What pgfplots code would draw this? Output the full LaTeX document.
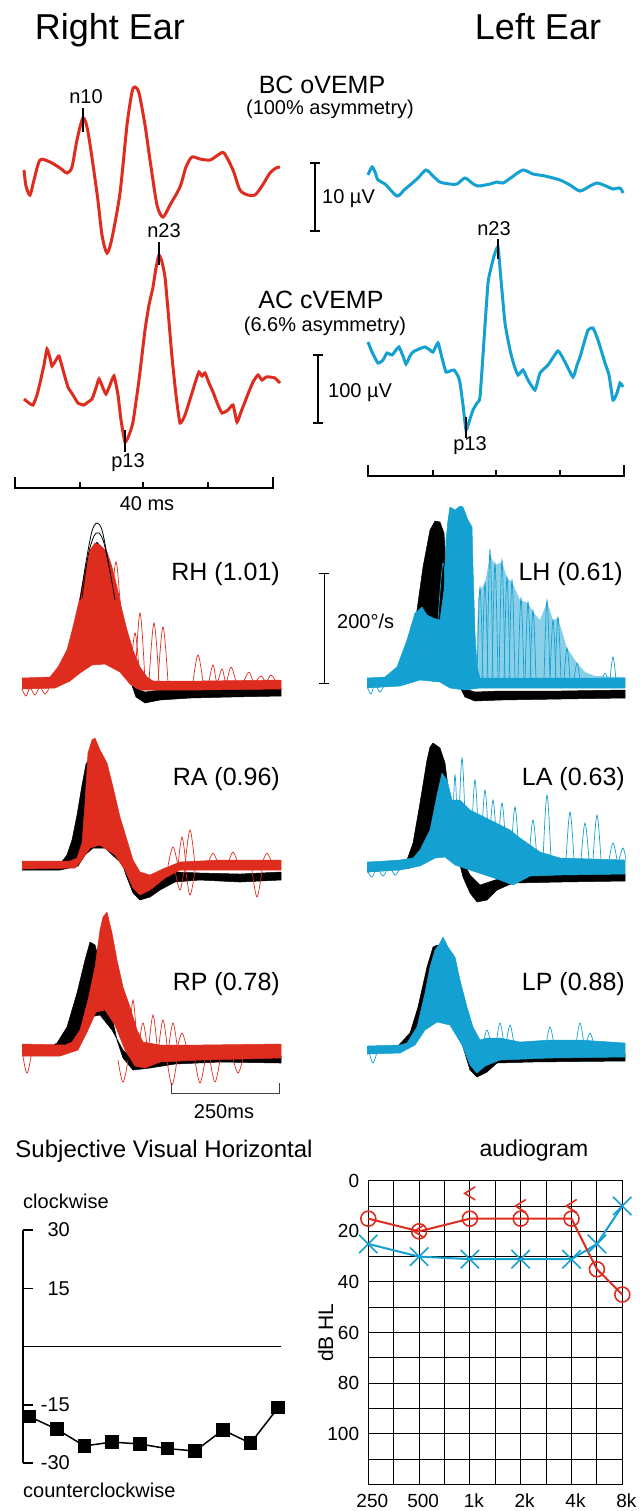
\documentclass[border=0pt]{standalone}
\usepackage{pgfplots}
\pgfplotsset{compat=1.18}
\usepackage{fontspec}
\setmainfont{Liberation Sans}
\definecolor{vred}{RGB}{222,44,30}
\definecolor{vblue}{RGB}{20,160,208}
\newcommand{\fs}[1]{\fontsize{#1}{#1}\selectfont}
\pgfdeclareplotmark{lt}{%
  \pgfpathmoveto{\pgfqpoint{0.8\pgfplotmarksize}{\pgfplotmarksize}}%
  \pgfpathlineto{\pgfqpoint{-0.8\pgfplotmarksize}{0pt}}%
  \pgfpathlineto{\pgfqpoint{0.8\pgfplotmarksize}{-\pgfplotmarksize}}%
  \pgfusepathqstroke}
\pgfplotsset{
  vl/.style={line width=0.7pt, smooth, tension=0.6},
  pf/.style={line width=0.5pt, line join=round},
}
\tikzset{lbl/.style={inner sep=0pt}}
\begin{document}
\begin{tikzpicture}
\path[use as bounding box] (0,0) rectangle (644pt,-1511pt);
\begin{axis}[at={(0pt,0pt)}, anchor=north west, x=1pt, y=1pt,
  xmin=0, xmax=644, ymin=0, ymax=1511, y dir=reverse, hide axis, clip=false]

% ---------- titles ----------
\node[lbl, anchor=base, font=\fs{36}] at (axis cs:110,39) {Right Ear};
\node[lbl, anchor=base, font=\fs{36}] at (axis cs:538,39) {Left Ear};
\node[lbl, anchor=base, font=\fs{25}] at (axis cs:322,93) {BC oVEMP};
\node[lbl, anchor=base, font=\fs{20}] at (axis cs:330,114) {(100\% asymmetry)};
\node[lbl, anchor=base, font=\fs{25}] at (axis cs:321,308) {AC cVEMP};
\node[lbl, anchor=base, font=\fs{20}] at (axis cs:325,331) {(6.6\% asymmetry)};

% ---------- BC oVEMP ----------
\addplot[vred, line width=3pt, smooth, tension=0.45] coordinates {
(24,170) (26,186) (30,195) (34,180) (40,160) (50,162) (60,168) (67,173) (72,167)
(77,140) (83,118) (88,132) (97,193) (102,235) (107,253) (112,238) (120,193) (127,125)
(132,92) (135,87) (139,93) (145,125) (150,160) (157,205) (163,217) (170,205) (180,187)
(186,167) (192,157) (200,159) (210,160) (218,155) (224,153) (233,170) (240,190) (248,195)
(255,195) (262,186) (270,173) (276,168) (280,167)};
\addplot[vblue, line width=3pt, smooth, tension=0.45] coordinates {
(368,175) (372,167) (375,172) (378,180) (385,184) (397,196) (404,190) (410,185) (418,178)
(426,170) (433,176) (440,182) (450,184) (457,184) (465,178) (472,183) (478,186) (490,184)
(497,182) (503,183) (512,177) (523,170) (533,174) (545,176) (560,180) (570,185) (580,191)
(590,186) (597,183) (606,186) (613,189) (620,188) (623,193)};
\draw[line width=2pt] (axis cs:83,108) -- (axis cs:83,132);
\node[lbl, anchor=base, font=\fs{20}] at (axis cs:86,103) {n10};
\draw[line width=2pt] (axis cs:315,163) -- (axis cs:315,231);
\draw[line width=2pt] (axis cs:310,163) -- (axis cs:320,163);
\draw[line width=2pt] (axis cs:310,231) -- (axis cs:320,231);
\node[lbl, anchor=base west, font=\fs{20}] at (axis cs:322,203) {10 µV};

% ---------- AC cVEMP ----------
\addplot[vred, line width=3pt, smooth, tension=0.3] coordinates {
(24,399) (29,403) (33,405) (37,395) (40,383) (44,365) (47,349) (50,358) (52,366) (56,360)
(59,356) (63,370) (68,387) (73,395) (78,403) (84,405) (88,402) (92,399) (96,388) (99,379)
(103,388) (106,394) (110,385) (114,376) (118,395) (121,420) (125,442) (129,435) (133,422)
(139,380) (145,330) (149,305) (153,287) (156,268) (159,255) (162,262) (165,277) (168,310)
(172,357) (176,395) (180,423) (185,415) (192,393) (196,380) (199,372) (202,376) (205,373)
(209,383) (213,392) (218,405) (222,413) (228,410) (233,405) (237,422) (241,412) (248,394)
(253,382) (258,375) (262,380) (266,377) (270,377) (275,378) (280,383)};
\addplot[vblue, line width=3pt, smooth, tension=0.3] coordinates {
(368,342) (372,352) (378,363) (383,360) (387,353) (392,355) (396,350) (399,347) (403,356)
(406,364) (410,356) (413,352) (419,349) (425,347) (430,350) (433,352) (438,343) (442,358)
(446,372) (450,371) (454,370) (458,376) (460,383) (463,405) (466,430) (469,422) (473,410)
(477,403) (480,397) (484,340) (488,283) (491,268) (494,256) (498,247) (501,280) (505,323)
(510,350) (514,365) (518,375) (523,370) (528,380) (535,390) (540,373) (548,365) (558,351)
(565,362) (573,377) (577,365) (580,357) (584,343) (588,330) (593,328) (598,340) (605,363)
(609,375) (613,400) (617,393) (620,383) (623,387)};
\draw[line width=2pt] (axis cs:159,242) -- (axis cs:159,265);
\node[lbl, anchor=base, font=\fs{20}] at (axis cs:164,237) {n23};
\draw[line width=2pt] (axis cs:125,430) -- (axis cs:125,452);
\node[lbl, anchor=base, font=\fs{20}] at (axis cs:128,467) {p13};
\draw[line width=2pt] (axis cs:498,239) -- (axis cs:498,259);
\node[lbl, anchor=base, font=\fs{20}] at (axis cs:494,235) {n23};
\draw[line width=2pt] (axis cs:466,417) -- (axis cs:466,438);
\node[lbl, anchor=base, font=\fs{20}] at (axis cs:470,450) {p13};
\draw[line width=2pt] (axis cs:318,355) -- (axis cs:318,423);
\draw[line width=2pt] (axis cs:313,355) -- (axis cs:323,355);
\draw[line width=2pt] (axis cs:313,423) -- (axis cs:323,423);
\node[lbl, anchor=base west, font=\fs{20}] at (axis cs:328,397) {100 µV};
% time bars
\draw[line width=1.6pt] (axis cs:15,477) -- (axis cs:15,488) -- (axis cs:273,488) -- (axis cs:273,477);
\draw[line width=1.6pt] (axis cs:80,482) -- (axis cs:80,488);
\draw[line width=1.6pt] (axis cs:143,482) -- (axis cs:143,488);
\draw[line width=1.6pt] (axis cs:208,482) -- (axis cs:208,488);
\node[lbl, anchor=base, font=\fs{20}] at (axis cs:147,510) {40 ms};
\draw[line width=1.6pt] (axis cs:368,465) -- (axis cs:368,476) -- (axis cs:624,476) -- (axis cs:624,465);
\draw[line width=1.6pt] (axis cs:433,470) -- (axis cs:433,476);
\draw[line width=1.6pt] (axis cs:496,470) -- (axis cs:496,476);
\draw[line width=1.6pt] (axis cs:560,470) -- (axis cs:560,476);

% ---------- vHIT RH ----------
\addplot[draw=black, fill=black, pf] coordinates {(22,684) (50,681) (60,673) (70,650) (78,615) (85,578) (91,552) (97,542) (103,550) (110,578) (117,615) (124,650) (130,680) (136,697) (145,703) (160,700) (190,698) (230,697) (281,696) (281,688) (230,689) (190,689) (160,690) (145,692) (135,688) (125,675) (115,662) (100,655) (88,660) (78,672) (68,680) (55,685) (22,687)};
\addplot[draw=vred, fill=vred, pf] coordinates {(22,678) (50,677) (58,667) (67,650) (73,627) (80,597) (85,570) (90,550) (95,543) (100,545) (107,552) (112,567) (117,587) (122,610) (127,630) (133,650) (140,667) (147,677) (153,681) (200,681) (281,680) (281,689) (200,690) (153,690) (140,690) (130,684) (120,672) (105,664) (92,665) (80,673) (70,681) (55,688) (22,689)};
\addplot[black, line width=0.8pt, smooth] coordinates {(80,600) (86,562) (92,531) (97,523) (102,530) (108,560) (115,600)};
\addplot[black, line width=0.8pt, smooth] coordinates {(82,598) (88,556) (94,536) (99,533) (104,543) (110,572)};
\addplot[vred, vl] coordinates {(108,660) (112,600) (116,562) (120,600) (124,650)};
\addplot[vred, vl] coordinates {(130,682) (135,633) (140,682)};
\addplot[vred, vl] coordinates {(135,682) (140,613) (145,682)};
\addplot[vred, vl] coordinates {(149,682) (154,623) (159,682)};
\addplot[vred, vl] coordinates {(158,682) (163,627) (168,682)};
\addplot[vred, vl] coordinates {(193,682) (198,655) (203,682)};
\addplot[vred, vl] coordinates {(209,682) (213,665) (217,682) (222,669) (226,682) (231,667) (236,682)};
\addplot[vred, vl] coordinates {(244,681) (249,672) (254,682) (261,676) (266,682) (271,675) (276,682)};
\addplot[vred, vl] coordinates {(22,689) (26,696) (30,688) (35,695) (40,687) (45,694) (50,686)};
\node[lbl, anchor=base east, font=\fs{25}] at (axis cs:280,580) {RH (1.01)};
\draw[line width=1pt] (axis cs:324,573) -- (axis cs:324,683);
\draw[line width=1pt] (axis cs:319,573) -- (axis cs:329,573);
\draw[line width=1pt] (axis cs:319,683) -- (axis cs:329,683);
\node[lbl, anchor=base west, font=\fs{20}] at (axis cs:337,628) {200°/s};

% ---------- vHIT LH ----------
\addplot[draw=black, fill=black, pf] coordinates {(367,684) (395,682) (405,665) (410,650) (417,610) (423,567) (430,530) (435,521) (440,522) (444,533) (447,583) (450,633) (455,667) (460,687) (465,697) (475,701) (500,700) (560,699) (625,698) (625,690) (560,691) (500,691) (475,692) (462,688) (452,670) (445,640) (435,625) (425,625) (415,640) (405,670) (395,684) (367,686)};
\addplot[draw=vblue, fill=vblue, pf] coordinates {(367,678) (385,677) (397,667) (407,640) (415,613) (422,607) (427,615) (433,618) (440,620) (444,590) (446,540) (448,520) (450,507) (455,510) (460,506) (463,507) (468,520) (472,527) (473,567) (475,633) (477,667) (480,678) (625,678) (625,688) (480,688) (465,690) (450,688) (440,682) (420,680) (400,686) (367,688)};
\addplot[draw=none, fill=vblue, fill opacity=0.5] coordinates {(476,680) (478,600) (480,590) (485,583) (490,555) (495,565) (502,562) (507,578) (512,582) (520,600) (528,603) (533,612) (540,620) (547,602) (553,620) (558,618) (567,648) (577,663) (585,672) (595,676) (625,677) (625,683) (476,683)};
\addplot[vblue, vl] coordinates {(438,620) (443,563) (447,600)};
\addplot[vblue, vl] coordinates {(477,680) (480,587) (483,680)};
\addplot[vblue, vl] coordinates {(482,680) (485,583) (488,680)};
\addplot[vblue, vl] coordinates {(487,680) (490,550) (493,680)};
\addplot[vblue, vl] coordinates {(492,680) (495,563) (498,680)};
\addplot[vblue, vl] coordinates {(499,680) (502,560) (505,680)};
\addplot[vblue, vl] coordinates {(504,680) (507,577) (510,680)};
\addplot[vblue, vl] coordinates {(509,680) (512,580) (515,680)};
\addplot[vblue, vl] coordinates {(518,680) (521,598) (524,680)};
\addplot[vblue, vl] coordinates {(525,680) (528,602) (531,680)};
\addplot[vblue, vl] coordinates {(530,680) (533,610) (536,680)};
\addplot[vblue, vl] coordinates {(544,680) (547,600) (550,680)};
\addplot[vblue, vl] coordinates {(550,680) (553,620) (556,680)};
\addplot[vblue, vl] coordinates {(555,680) (558,617) (561,680)};
\addplot[vblue, vl] coordinates {(564,680) (567,648) (570,680)};
\addplot[vblue, vl] coordinates {(574,680) (577,663) (580,680)};
\addplot[vblue, vl] coordinates {(602,680) (605,673) (608,680)};
\addplot[vblue, vl] coordinates {(610,680) (613,657) (616,680)};
\addplot[vblue, vl] coordinates {(367,686) (371,694) (375,684) (380,692) (385,683)};
\node[lbl, anchor=base east, font=\fs{25}] at (axis cs:623,580) {LH (0.61)};

% ---------- vHIT RA ----------
\addplot[draw=black, fill=black, pf] coordinates {(22,866) (60,864) (67,855) (72,840) (77,815) (82,785) (86,764) (90,758) (95,765) (102,790) (110,820) (118,850) (126,875) (133,893) (140,900) (150,897) (160,890) (175,882) (200,880) (240,882) (281,880) (281,872) (240,874) (200,873) (175,872) (160,875) (150,880) (140,885) (130,878) (120,862) (105,848) (93,848) (85,855) (78,866) (60,870) (22,870)};
\addplot[draw=vred, fill=vred, pf] coordinates {(22,861) (70,861) (77,858) (82,843) (85,803) (88,753) (92,740) (95,738) (100,750) (107,763) (113,787) (120,817) (127,840) (133,860) (140,872) (150,875) (165,868) (180,862) (220,860) (281,860) (281,870) (220,870) (180,870) (165,878) (150,890) (140,895) (133,888) (125,870) (115,855) (100,845) (90,848) (82,860) (75,868) (22,869)};
\addplot[vred, vl] coordinates {(168,866) (173,847) (178,866)};
\addplot[vred, vl] coordinates {(178,866) (182,837) (186,866)};
\addplot[vred, vl] coordinates {(185,866) (190,830) (195,866)};
\addplot[vred, vl] coordinates {(208,864) (213,853) (218,864)};
\addplot[vred, vl] coordinates {(228,864) (233,852) (238,864)};
\addplot[vred, vl] coordinates {(262,864) (267,853) (272,864)};
\addplot[vred, vl] coordinates {(175,870) (180,890) (185,870) (190,895) (195,870)};
\addplot[vred, vl] coordinates {(252,870) (257,897) (262,870)};
\node[lbl, anchor=base east, font=\fs{25}] at (axis cs:280,785) {RA (0.96)};

% ---------- vHIT LA ----------
\addplot[draw=black, fill=black, pf] coordinates {(367,870) (400,868) (407,860) (413,843) (420,803) (427,760) (430,747) (433,743) (440,748) (445,763) (448,787) (452,820) (457,853) (463,877) (470,893) (477,902) (487,900) (497,890) (513,883) (560,882) (625,881) (625,874) (560,875) (513,876) (495,880) (480,885) (470,875) (460,855) (450,840) (440,838) (430,845) (420,857) (410,868) (367,872)};
\addplot[draw=vblue, fill=vblue, pf] coordinates {(367,862) (385,861) (400,860) (413,858) (420,850) (430,830) (437,795) (442,773) (447,780) (452,800) (460,800) (470,810) (480,815) (490,820) (500,825) (510,830) (520,838) (530,845) (540,852) (560,858) (625,860) (625,874) (560,875) (530,876) (513,885) (500,880) (485,875) (470,870) (455,865) (445,857) (435,858) (420,866) (400,870) (367,872)};
\addplot[vblue, vl] coordinates {(452,850) (455,775) (458,850)};
\addplot[vblue, vl] coordinates {(458,850) (462,758) (466,850)};
\addplot[vblue, vl] coordinates {(471,850) (475,780) (479,850)};
\addplot[vblue, vl] coordinates {(481,850) (485,790) (489,850)};
\addplot[vblue, vl] coordinates {(489,850) (493,800) (497,850)};
\addplot[vblue, vl] coordinates {(498,850) (502,803) (506,850)};
\addplot[vblue, vl] coordinates {(511,855) (515,807) (519,855)};
\addplot[vblue, vl] coordinates {(529,860) (533,820) (537,860)};
\addplot[vblue, vl] coordinates {(543,860) (547,795) (551,860)};
\addplot[vblue, vl] coordinates {(566,860) (570,812) (574,860)};
\addplot[vblue, vl] coordinates {(581,860) (585,823) (589,860)};
\addplot[vblue, vl] coordinates {(593,860) (597,815) (601,860)};
\addplot[vblue, vl] coordinates {(609,860) (613,843) (617,860)};
\addplot[vblue, vl] coordinates {(619,860) (623,848) (626,860)};
\addplot[vblue, vl] coordinates {(367,870) (372,877) (377,868) (383,876) (389,867) (395,875) (400,868)};
\node[lbl, anchor=base east, font=\fs{25}] at (axis cs:625,785) {LA (0.63)};

% ---------- vHIT RP ----------
\addplot[draw=black, fill=black, pf] coordinates {(22,1049) (50,1047) (57,1043) (67,1027) (77,993) (85,960) (90,942) (95,945) (100,963) (110,1007) (117,1040) (123,1058) (133,1070) (150,1068) (175,1064) (220,1062) (281,1063) (281,1056) (220,1055) (175,1056) (150,1058) (133,1060) (123,1050) (112,1030) (100,1015) (90,1017) (80,1035) (70,1047) (55,1052) (22,1052)};
\addplot[draw=vred, fill=vred, pf] coordinates {(22,1044) (65,1045) (72,1042) (80,1030) (88,1000) (95,967) (100,930) (103,917) (107,912) (112,933) (117,960) (123,987) (130,1007) (137,1030) (143,1042) (160,1045) (200,1045) (281,1044) (281,1058) (200,1060) (160,1062) (145,1068) (135,1066) (125,1050) (115,1025) (105,1010) (96,1012) (88,1030) (78,1050) (60,1056) (22,1056)};
\addplot[vred, vl] coordinates {(129,1045) (133,1000) (137,1045)};
\addplot[vred, vl] coordinates {(139,1045) (143,1023) (147,1045)};
\addplot[vred, vl] coordinates {(149,1045) (153,1015) (157,1045)};
\addplot[vred, vl] coordinates {(159,1045) (163,1020) (167,1045)};
\addplot[vred, vl] coordinates {(169,1045) (173,1023) (177,1045)};
\addplot[vred, vl] coordinates {(178,1045) (182,1033) (186,1045)};
\addplot[vred, vl] coordinates {(118,1060) (123,1082) (128,1060)};
\addplot[vred, vl] coordinates {(167,1060) (172,1085) (177,1060)};
\addplot[vred, vl] coordinates {(195,1060) (200,1083) (205,1060)};
\addplot[vred, vl] coordinates {(210,1060) (215,1082) (220,1060)};
\addplot[vred, vl] coordinates {(233,1058) (238,1073) (243,1058)};
\addplot[vred, vl] coordinates {(22,1050) (27,1073) (32,1050)};
\node[lbl, anchor=base east, font=\fs{25}] at (axis cs:280,990) {RP (0.78)};
\draw[line width=1pt, black!75] (axis cs:171,1083) -- (axis cs:171,1093) -- (axis cs:279,1093) -- (axis cs:279,1083);
\node[lbl, anchor=base, font=\fs{20}] at (axis cs:224,1118) {250ms};

% ---------- vHIT LP ----------
\addplot[draw=black, fill=black, pf] coordinates {(367,1051) (390,1050) (397,1047) (410,1033) (418,1007) (427,967) (433,947) (437,945) (445,953) (452,983) (458,1017) (463,1047) (470,1070) (477,1077) (487,1072) (497,1063) (530,1062) (625,1061) (625,1054) (530,1055) (497,1056) (485,1060) (475,1062) (467,1045) (458,1025) (448,1013) (438,1012) (428,1020) (418,1035) (405,1048) (367,1053)};
\addplot[draw=vblue, fill=vblue, pf] coordinates {(367,1046) (400,1045) (407,1043) (417,1027) (425,993) (430,967) (435,950) (440,943) (443,937) (448,947) (455,957) (460,980) (467,1007) (473,1027) (480,1040) (487,1038) (500,1038) (520,1042) (550,1040) (580,1040) (625,1043) (625,1057) (550,1058) (500,1060) (485,1066) (477,1073) (470,1065) (462,1045) (450,1025) (437,1022) (425,1030) (415,1045) (400,1053) (367,1054)};
\addplot[vblue, vl] coordinates {(483,1045) (487,1030) (491,1045)};
\addplot[vblue, vl] coordinates {(496,1045) (500,1023) (504,1045)};
\addplot[vblue, vl] coordinates {(506,1045) (510,1025) (514,1045)};
\addplot[vblue, vl] coordinates {(546,1045) (550,1027) (554,1045)};
\addplot[vblue, vl] coordinates {(576,1045) (580,1023) (584,1045)};
\addplot[vblue, vl] coordinates {(586,1045) (590,1033) (594,1045)};
\addplot[vblue, vl] coordinates {(369,1052) (373,1063) (377,1052)};
\node[lbl, anchor=base east, font=\fs{25}] at (axis cs:625,990) {LP (0.88)};

% ---------- bottom titles ----------
\node[lbl, anchor=base, font=\fs{24}] at (axis cs:164,1157) {Subjective Visual Horizontal};
\node[lbl, anchor=base west, font=\fs{20}] at (axis cs:23,1208) {clockwise};
\node[lbl, anchor=base west, font=\fs{20}] at (axis cs:23,1497) {counterclockwise};
\node[lbl, anchor=base, font=\fs{23}] at (axis cs:534,1156) {audiogram};
\end{axis}

% ---------- SVH ----------
\begin{axis}[at={(23pt,-1463pt)}, anchor=south west, scale only axis,
  width=258pt, height=233pt, xmin=0.78, xmax=10.1, ymin=-30, ymax=30, clip=false,
  axis y line*=left, axis x line=none, xtick=\empty,
  ytick={-30,-15,15,30}, yticklabels={-30,-15,15,30},
  tick align=inside, major tick length=10pt,
  every tick/.style={black, line width=1.5pt},
  y axis line style={line width=2pt},
  yticklabel style={anchor=east, inner sep=0pt, xshift=47pt, font=\fs{20}}]
\addplot[black, line width=1.5pt] coordinates {(0.78,0) (10.1,0)};
\addplot[black, line width=1.5pt, mark=square*, mark size=6pt] coordinates {
(1,-18) (2,-21.3) (3,-25.6) (4,-24.6) (5,-25.1) (6,-26.3) (7,-26.9) (8,-21.5) (9,-24.9) (10,-15.7)};
\end{axis}

% ---------- audiogram ----------
\begin{axis}[at={(368.3pt,-1484.3pt)}, anchor=south west, scale only axis,
  width=254pt, height=303.6pt, xmin=0, xmax=10, ymin=0, ymax=120, y dir=reverse, clip=false,
  xtick={0,...,10}, xticklabels={250,,500,,1k,,2k,,4k,,8k},
  ytick={0,10,...,120}, yticklabels={0,,20,,40,,60,,80,,100,,},
  extra y ticks={20,30}, extra y tick labels={},
  extra y tick style={grid style={black, line width=1.7pt}},
  grid=major, major grid style={black, line width=0.9pt},
  major tick length=0pt, axis line style={black, line width=1.1pt},
  xticklabel style={anchor=base, inner sep=0pt, yshift=-22.7pt, xshift=4pt, font=\fs{19}},
  yticklabel style={anchor=east, inner sep=0pt, xshift=-9pt, font=\fs{19}},
  ylabel={dB HL}, ylabel style={at={(axis description cs:-0.168,0.5)}, anchor=center, font=\fs{21}}]
\addplot[vblue, line width=2pt, mark=x, mark size=13pt, mark options={line width=1.6pt}] coordinates {
(0,25) (2,30) (4,31) (6,31) (8,31) (9,25) (10,10)};
\addplot[vred, line width=2pt, mark=o, mark size=7.5pt, mark options={fill=white, line width=1.6pt}] coordinates {
(0,15) (2,20) (4,15) (6,15) (8,15) (9,35) (10,45)};
\addplot[vred, only marks, mark=lt, mark size=6.5pt, mark options={line width=1.6pt}] coordinates {
(2,20) (4,5) (6,10) (8,10)};
\end{axis}
\end{tikzpicture}
\end{document}
